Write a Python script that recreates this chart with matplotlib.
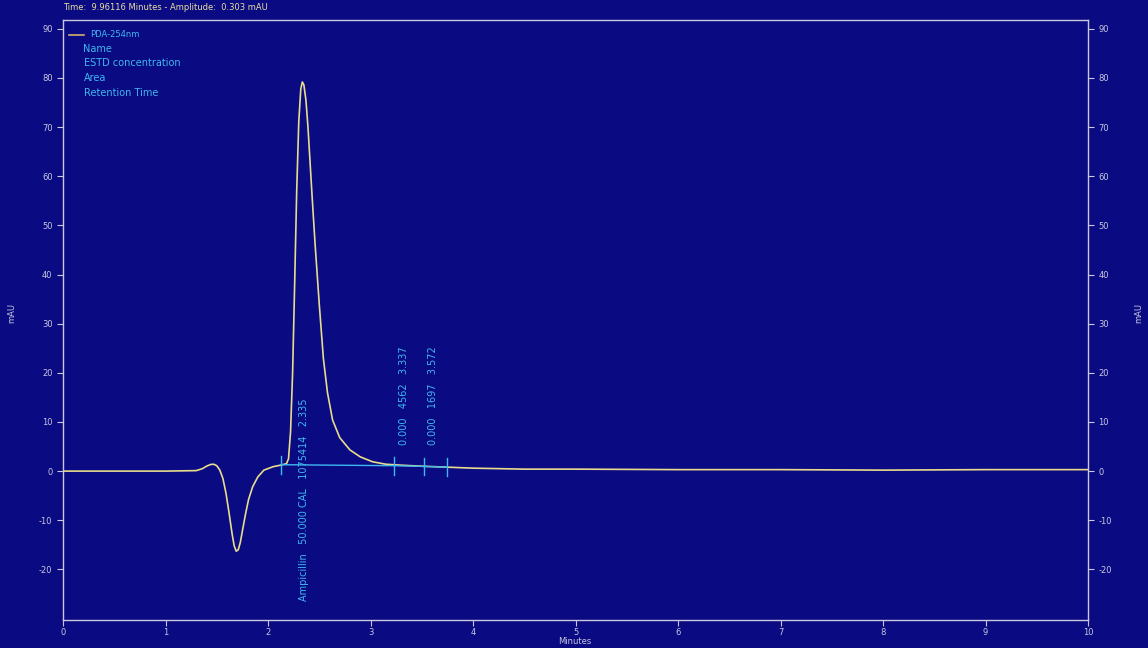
import matplotlib
matplotlib.use('Agg')
import matplotlib.pyplot as plt

plt.rcParams['axes.unicode_minus'] = False

# chromatogram trace, PDA 254 nm
time_min = [0.0, 1.0, 1.3, 1.36, 1.40, 1.44, 1.47, 1.50, 1.53, 1.56, 1.59, 1.62,
            1.65, 1.67, 1.69, 1.71, 1.73, 1.75, 1.78, 1.81, 1.85, 1.90, 1.96,
            2.05, 2.12, 2.18, 2.20, 2.22, 2.24, 2.26, 2.28, 2.30, 2.32, 2.335,
            2.35, 2.37, 2.39, 2.41, 2.43, 2.46, 2.50, 2.54, 2.58, 2.63, 2.70,
            2.80, 2.90, 3.02, 3.15, 3.30, 3.50, 3.75, 4.0, 4.5, 5.0, 6.0, 7.0,
            8.0, 9.0, 10.0]
amp_mau = [0.0, 0.0, 0.1, 0.5, 1.0, 1.35, 1.4, 1.1, 0.2, -1.5, -4.5, -8.5,
           -12.8, -15.2, -16.3, -16.0, -14.5, -12.2, -8.8, -5.8, -3.2, -1.2, 0.2,
           0.9, 1.2, 1.5, 2.5, 8.0, 20.0, 38.0, 57.0, 71.0, 77.8, 79.2,
           78.6, 75.5, 70.0, 63.0, 56.0, 46.0, 34.0, 23.0, 16.0, 10.4, 6.8,
           4.3, 2.9, 1.9, 1.4, 1.2, 1.0, 0.8, 0.6, 0.4, 0.4, 0.3, 0.3,
           0.2, 0.3, 0.3]

# integration baseline and peak marks
base_t = [2.13, 3.23, 3.52, 3.75]
base_y = [1.3, 1.1, 0.95, 0.8]

# peak labels
peak_t = [2.35, 3.33, 3.61]
peak_y = [-26.5, 5.3, 5.3]
peak_txt = ['Ampicillin   50.000 CAL   1075414   2.335',
            '0.000   4562   3.337',
            '0.000   1697   3.572']

legend_rows = ['Name', 'ESTD concentration', 'Area', 'Retention Time']

bg = '#0a0a82'
fg = '#c8c8e0'
cyan = '#3fb8f0'
trace = '#e8dc8c'

fig = plt.figure(figsize=(11.48, 6.48), dpi=100, facecolor=bg)
ax = fig.add_axes([63 / 1148, 28 / 648, 1025 / 1148, 600 / 648], facecolor=bg)

ax.plot(time_min, amp_mau, color=trace, linewidth=1.2)
ax.plot(base_t, base_y, color=cyan, linewidth=1.0)
for t, y in zip(base_t, base_y):
    ax.plot([t, t], [y - 1.8, y + 1.8], color=cyan, linewidth=1.0)

for t, y, s in zip(peak_t, peak_y, peak_txt):
    ax.text(t, y, s, rotation=90, color=cyan, fontsize=7,
            ha='center', va='bottom')

ax.set_xlim(0, 10)
ax.set_ylim(-30.3, 91.8)
ax.set_xticks(range(0, 11))
ax.set_yticks(range(-20, 91, 10))

for sp in ax.spines.values():
    sp.set_color(fg)
    sp.set_linewidth(1.0)
ax.tick_params(colors=fg, labelsize=6, length=4, width=0.8)
ax.tick_params(axis='x', pad=2)
ax.tick_params(axis='y', right=True, labelright=True)

# axis titles placed in figure pixels
fig.text(575 / 1148, 1 - 641 / 648, 'Minutes', color=fg, fontsize=6,
         ha='center', va='center')
fig.text(12 / 1148, 1 - 313 / 648, 'mAU', color=fg, fontsize=6,
         rotation=90, ha='center', va='center')
fig.text(1139 / 1148, 1 - 313 / 648, 'mAU', color=fg, fontsize=6,
         rotation=90, ha='center', va='center')

# legend block
ax.plot([0.06, 0.2], [88.8, 88.8], color='#d0b070', linewidth=1.2)
ax.text(0.26, 88.8, 'PDA-254nm', color=cyan, fontsize=6, va='center')
for i, s in enumerate(legend_rows):
    ax.text(0.2, 86.0 - i * 3.0, s, color=cyan, fontsize=7, va='center')

fig.text(63 / 1148, 1 - 8 / 648, 'Time:  9.96116 Minutes - Amplitude:  0.303 mAU',
         color='#e8e0a0', fontsize=6, va='center')

fig.savefig('out.png', dpi=100, facecolor=bg)
